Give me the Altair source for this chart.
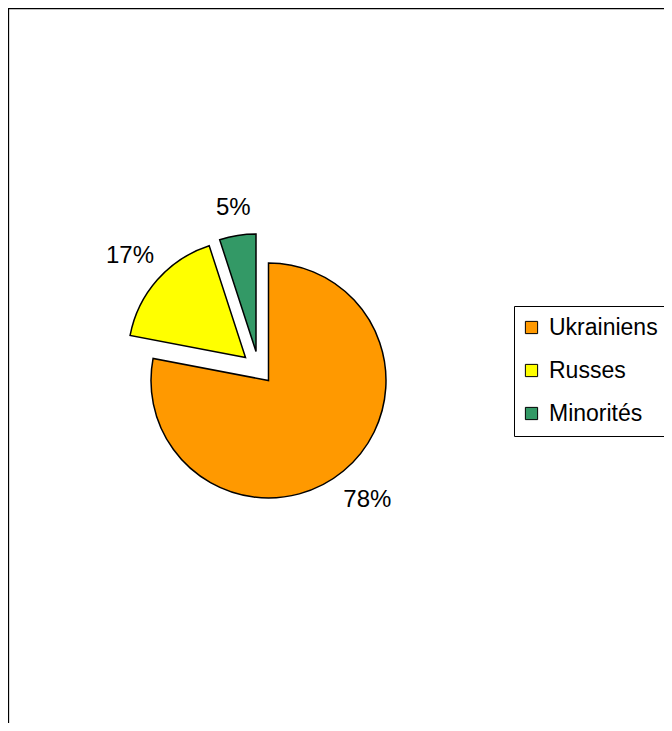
import math
import altair as alt
import pandas as pd

# ---- data ----
categories = ["Ukrainiens", "Russes", "Minorités"]
values = [78, 17, 5]
colors = ["#FF9900", "#FFFF00", "#339966"]

df = pd.DataFrame({"category": categories, "value": values, "order": [0, 1, 2]})

# ---- layout constants (pixels, plot coordinates) ----
CX, CY = 260.5, 372.5     # pie centre
R = 117.5                 # pie radius
# explosion offsets per slice (dx, dy) and label radius
explode = {"Ukrainiens": (0, 0), "Russes": (-23, -23), "Minorités": (-12.5, -29)}
label_r = {"Ukrainiens": 155, "Russes": 154, "Minorités": 145}

FONT = "Liberation Sans"

theta_scale = alt.Scale(domain=[0, 100], range=[0, 2 * math.pi])
color_scale = alt.Scale(domain=categories, range=colors)

base = (
    alt.Chart(df)
    .transform_window(end="sum(value)", sort=[alt.SortField("order")])
    .transform_calculate(
        start="datum.end - datum.value",
        mid="datum.end - datum.value / 2",
        label="datum.value + '%'",
    )
)

legend = alt.Legend(
    title=None,
    orient="none",
    legendX=506,
    legendY=298,
    symbolType="square",
    symbolSize=150,
    symbolStrokeColor="black",
    symbolStrokeWidth=1,
    symbolOffset=-4,
    labelFont=FONT,
    labelFontSize=23,
    labelColor="black",
    labelLimit=400,
    labelOffset=6,
    rowPadding=19,
    padding=10,
    strokeColor="black",
    fillColor="white",
)

layers = []
for cat in categories:
    dx, dy = explode[cat]
    sub = base.transform_filter(alt.datum.category == cat)
    arc = sub.mark_arc(
        radius=R, stroke="black", strokeWidth=1.5, strokeJoin="miter"
    ).encode(
        x=alt.value(CX + dx),
        y=alt.value(CY + dy),
        theta=alt.Theta("start:Q", scale=theta_scale),
        theta2=alt.Theta2("end:Q"),
        fill=alt.Fill("category:N", scale=color_scale, legend=legend),
    )
    txt = sub.mark_text(
        radius=label_r[cat], font=FONT, fontSize=24, color="black",
        align="center", baseline="middle",
    ).encode(
        x=alt.value(CX + dx),
        y=alt.value(CY + dy),
        theta=alt.Theta("mid:Q", scale=theta_scale),
        text="label:N",
    )
    layers += [arc, txt]

frame = (
    alt.Chart(pd.DataFrame({"f": [0]}))
    .mark_rect(filled=False, stroke="black", strokeWidth=1.3, clip=True)
    .encode(x=alt.value(0.5), y=alt.value(0.5), x2=alt.value(2000), y2=alt.value(2000))
)

chart = (
    alt.layer(frame, *layers)
    .properties(width=656, height=715, autosize="none", padding=0, background="white")
    .configure_view(stroke=None)
)

chart.save("out.html", embed_options={"renderer": "svg", "actions": False})
